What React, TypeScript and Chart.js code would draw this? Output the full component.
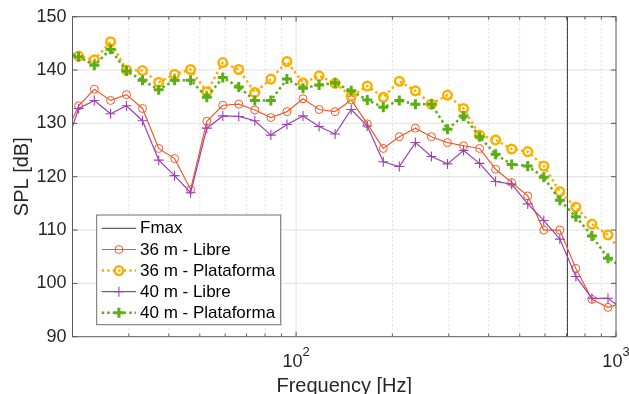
import React, { useEffect, useRef } from "react";
import { Chart, registerables } from "chart.js";

Chart.register(...registerables);

// 1/6-octave band centres (Hz); first and last lie just outside the visible axis
const freqHz = [18.6, 20.9, 23.4, 26.3, 29.5, 33.1, 37.2, 41.7, 46.8, 52.6, 59.0, 66.2, 74.3, 83.4, 93.6, 105.1, 118.0, 132.4, 148.7, 166.9, 187.3, 210.2, 236.0, 264.9, 297.3, 333.7, 374.6, 420.4, 471.9, 529.7, 594.6, 667.4, 749.2, 840.9, 943.9, 1059.5];

const libre36 = [126.8, 133.3, 136.4, 134.3, 135.4, 132.8, 125.3, 123.4, 117.6, 130.4, 133.4, 133.6, 132.5, 131.1, 132.2, 134.6, 132.6, 132.2, 134.4, 129.9, 125.3, 127.5, 129.1, 127.5, 126.4, 125.8, 125.3, 121.4, 118.9, 116.4, 110.0, 110.0, 102.8, 97.0, 95.5, 96.3];
const plataforma36 = [143.9, 142.6, 141.9, 145.3, 140.0, 139.9, 137.7, 139.2, 140.1, 135.9, 141.4, 140.1, 135.8, 138.3, 141.6, 137.6, 138.9, 137.5, 135.1, 137.0, 134.9, 137.9, 136.1, 133.6, 135.3, 132.8, 127.8, 126.9, 125.2, 124.7, 122.0, 117.2, 114.3, 111.1, 109.1, 105.3];
const libre40 = [123.8, 132.8, 134.3, 131.8, 133.3, 130.5, 123.1, 120.2, 117.0, 129.1, 131.4, 131.3, 130.5, 127.8, 129.8, 131.4, 129.4, 128.0, 132.6, 129.5, 122.8, 121.9, 126.4, 123.8, 122.4, 124.9, 122.5, 119.1, 118.6, 114.9, 111.8, 108.3, 101.3, 97.2, 97.2, 95.0];
const plataforma40 = [143.5, 142.5, 140.9, 143.9, 139.8, 138.1, 136.3, 138.1, 138.1, 134.9, 138.6, 136.8, 134.3, 134.3, 138.3, 136.6, 137.2, 137.6, 136.1, 134.4, 133.0, 134.3, 133.6, 133.6, 128.9, 131.4, 127.5, 124.2, 122.3, 122.0, 119.9, 115.6, 112.5, 108.9, 104.7, 102.9];

const fmaxHz = 705;

const seriesLabels = ["Fmax", "36 m - Libre", "36 m - Plataforma", "40 m - Libre", "40 m - Plataforma"];

const yTicks = [90, 100, 110, 120, 130, 140, 150];
const xMajorTicks = [100, 1000];
const xMinorTicks = [20, 30, 40, 50, 60, 70, 80, 90, 200, 300, 400, 500, 600, 700, 800, 900];
const xTickBase = ["10", "10"];
const xTickExp = ["2", "3"];

const X_MIN = 20;
const X_MAX = 1000;
const Y_MIN = 90;
const Y_MAX = 150;

const FONT = "'Liberation Sans', Arial, Helvetica, sans-serif";
const TEXT = "#262626";

const C_FMAX = "#3c3c3c";
const C_L36 = "#F25A2A";
const C_P36 = "#FBB000";
const C_L40 = "#9A42B4";
const C_P40 = "#5DAE14";

const toPts = (vals: number[]) => vals.map((v, i) => ({ x: freqHz[i], y: v }));

const legendStyles = [
  { color: C_FMAX, width: 1, dash: [] as number[], marker: "none", mr: 0, mw: 0 },
  { color: C_L36, width: 1.2, dash: [] as number[], marker: "circle", mr: 4, mw: 1 },
  { color: C_P36, width: 2.5, dash: [2.5, 3], marker: "circle", mr: 4.3, mw: 2.5 },
  { color: C_L40, width: 1.2, dash: [] as number[], marker: "cross", mr: 5, mw: 1.1 },
  { color: C_P40, width: 2.5, dash: [2.5, 3], marker: "cross", mr: 5, mw: 3 },
];

function drawMarker(ctx: CanvasRenderingContext2D, kind: string, x: number, y: number, r: number, w: number, color: string) {
  ctx.save();
  ctx.setLineDash([]);
  ctx.strokeStyle = color;
  ctx.lineWidth = w;
  ctx.beginPath();
  if (kind === "circle") {
    ctx.arc(x, y, r, 0, Math.PI * 2);
  } else if (kind === "cross") {
    ctx.moveTo(x - r, y);
    ctx.lineTo(x + r, y);
    ctx.moveTo(x, y - r);
    ctx.lineTo(x, y + r);
  }
  ctx.stroke();
  ctx.restore();
}

const axesPlugin = {
  id: "matlabAxes",
  beforeDatasetsDraw(chart: any) {
    const { ctx, chartArea: a, scales } = chart;
    const xs = scales.x;
    const ys = scales.y;
    ctx.save();
    // major y grid
    ctx.strokeStyle = "#e2e2e2";
    ctx.lineWidth = 1;
    ctx.setLineDash([]);
    yTicks.forEach((v) => {
      if (v === Y_MIN || v === Y_MAX) return;
      const py = ys.getPixelForValue(v);
      ctx.beginPath();
      ctx.moveTo(a.left, py);
      ctx.lineTo(a.right, py);
      ctx.stroke();
    });
    // major x grid
    xMajorTicks.forEach((v) => {
      if (v === X_MIN || v === X_MAX) return;
      const px = xs.getPixelForValue(v);
      ctx.beginPath();
      ctx.moveTo(px, a.top);
      ctx.lineTo(px, a.bottom);
      ctx.stroke();
    });
    // minor x grid (dotted)
    ctx.strokeStyle = "#c8c8c8";
    ctx.setLineDash([1, 3]);
    xMinorTicks.forEach((v) => {
      if (v === X_MIN || v === X_MAX) return;
      const px = xs.getPixelForValue(v);
      ctx.beginPath();
      ctx.moveTo(px, a.top);
      ctx.lineTo(px, a.bottom);
      ctx.stroke();
    });
    ctx.restore();
  },
  afterDatasetsDraw(chart: any) {
    const { ctx, chartArea: a, scales } = chart;
    const xs = scales.x;
    const ys = scales.y;
    ctx.save();
    ctx.setLineDash([]);
    // box
    ctx.strokeStyle = "#5a5a5a";
    ctx.lineWidth = 1;
    ctx.strokeRect(a.left, a.top, a.right - a.left, a.bottom - a.top);
    // ticks (inward)
    ctx.beginPath();
    yTicks.forEach((v) => {
      const py = ys.getPixelForValue(v);
      ctx.moveTo(a.left, py);
      ctx.lineTo(a.left + 5, py);
      ctx.moveTo(a.right, py);
      ctx.lineTo(a.right - 5, py);
    });
    xMajorTicks.forEach((v) => {
      const px = xs.getPixelForValue(v);
      ctx.moveTo(px, a.bottom);
      ctx.lineTo(px, a.bottom - 5);
      ctx.moveTo(px, a.top);
      ctx.lineTo(px, a.top + 5);
    });
    xMinorTicks.forEach((v) => {
      const px = xs.getPixelForValue(v);
      ctx.moveTo(px, a.bottom);
      ctx.lineTo(px, a.bottom - 3);
      ctx.moveTo(px, a.top);
      ctx.lineTo(px, a.top + 3);
    });
    ctx.stroke();

    // y tick labels
    ctx.fillStyle = TEXT;
    ctx.font = `18px ${FONT}`;
    ctx.textAlign = "right";
    ctx.textBaseline = "middle";
    yTicks.forEach((v) => {
      ctx.fillText(String(v), a.left - 6, ys.getPixelForValue(v));
    });

    // x tick labels with superscript exponent
    ctx.textBaseline = "alphabetic";
    ctx.textAlign = "left";
    xMajorTicks.forEach((v, i) => {
      const px = xs.getPixelForValue(v);
      ctx.font = `18px ${FONT}`;
      const wb = ctx.measureText(xTickBase[i]).width;
      ctx.font = `13px ${FONT}`;
      const we = ctx.measureText(xTickExp[i]).width;
      const start = px - (wb + we) / 2;
      ctx.font = `18px ${FONT}`;
      ctx.fillText(xTickBase[i], start, a.bottom + 30);
      ctx.font = `13px ${FONT}`;
      ctx.fillText(xTickExp[i], start + wb, a.bottom + 19.5);
    });

    // axis titles
    ctx.font = `20px ${FONT}`;
    ctx.textAlign = "center";
    ctx.textBaseline = "alphabetic";
    ctx.fillText("Frequency [Hz]", (a.left + a.right) / 2, a.bottom + 55.5);
    ctx.save();
    ctx.translate(22.5, (a.top + a.bottom) / 2);
    ctx.rotate(-Math.PI / 2);
    ctx.textBaseline = "middle";
    ctx.fillText("SPL [dB]", 0, 0);
    ctx.restore();

    // legend
    const lx = 96.7;
    const ly = 215;
    const lw = 184;
    const lh = 109.7;
    ctx.fillStyle = "#ffffff";
    ctx.fillRect(lx, ly, lw, lh);
    ctx.strokeStyle = "#6e6e6e";
    ctx.lineWidth = 1;
    ctx.strokeRect(lx, ly, lw, lh);
    const rowY = [228.3, 249.5, 270.6, 291.7, 312.7];
    chart.data.datasets.forEach((ds: any, i: number) => {
      const st = legendStyles[i];
      const y = rowY[i];
      ctx.save();
      ctx.strokeStyle = st.color;
      ctx.lineWidth = st.width;
      ctx.setLineDash(st.dash);
      ctx.beginPath();
      ctx.moveTo(101.7, y);
      ctx.lineTo(136, y);
      ctx.stroke();
      ctx.restore();
      if (st.marker !== "none") drawMarker(ctx, st.marker, 118.9, y, st.mr, st.mw, st.color);
      ctx.fillStyle = "#000000";
      ctx.font = `17px ${FONT}`;
      ctx.textAlign = "left";
      ctx.textBaseline = "middle";
      ctx.fillText(ds.label, 140, y + 0.5);
    });
    ctx.restore();
  },
};

export default function App() {
  const canvasRef = useRef<HTMLCanvasElement | null>(null);

  useEffect(() => {
    if (!canvasRef.current) return;
    const chart = new Chart(canvasRef.current, {
      type: "line",
      data: {
        datasets: [
          {
            label: seriesLabels[0],
            data: [
              { x: fmaxHz, y: Y_MIN },
              { x: fmaxHz, y: Y_MAX },
            ],
            borderColor: C_FMAX,
            borderWidth: 1,
            pointRadius: 0,
            order: 5,
          },
          {
            label: seriesLabels[1],
            data: toPts(libre36),
            borderColor: C_L36,
            borderWidth: 1.2,
            pointStyle: "circle",
            pointRadius: 4,
            pointBorderWidth: 1,
            pointBorderColor: C_L36,
            pointBackgroundColor: "rgba(0,0,0,0)",
            order: 4,
          },
          {
            label: seriesLabels[2],
            data: toPts(plataforma36),
            borderColor: C_P36,
            borderWidth: 2.5,
            borderDash: [2.5, 3],
            pointStyle: "circle",
            pointRadius: 4.3,
            pointBorderWidth: 2.5,
            pointBorderColor: C_P36,
            pointBackgroundColor: "rgba(0,0,0,0)",
            order: 3,
          },
          {
            label: seriesLabels[3],
            data: toPts(libre40),
            borderColor: C_L40,
            borderWidth: 1.2,
            pointStyle: "cross",
            pointRadius: 5,
            pointBorderWidth: 1.1,
            pointBorderColor: C_L40,
            order: 2,
          },
          {
            label: seriesLabels[4],
            data: toPts(plataforma40),
            borderColor: C_P40,
            borderWidth: 2.5,
            borderDash: [2.5, 3],
            pointStyle: "cross",
            pointRadius: 5,
            pointBorderWidth: 3,
            pointBorderColor: C_P40,
            order: 1,
          },
        ] as any,
      },
      options: {
        animation: false,
        responsive: false,
        devicePixelRatio: 1,
        layout: { padding: { left: 72.5, right: 13, top: 16.7, bottom: 57.3 } },
        elements: { line: { tension: 0, fill: false } },
        scales: {
          x: { type: "logarithmic", min: X_MIN, max: X_MAX, display: false },
          y: { type: "linear", min: Y_MIN, max: Y_MAX, display: false },
        },
        plugins: {
          legend: { display: false },
          tooltip: { enabled: false },
          title: { display: false },
        },
      } as any,
      plugins: [axesPlugin],
    });
    return () => chart.destroy();
  }, []);

  return (
    <div style={{ position: "fixed", left: 0, top: 0, width: 629, height: 394, background: "#ffffff" }}>
      <canvas ref={canvasRef} width={629} height={394} style={{ display: "block", width: 629, height: 394 }} />
    </div>
  );
}
